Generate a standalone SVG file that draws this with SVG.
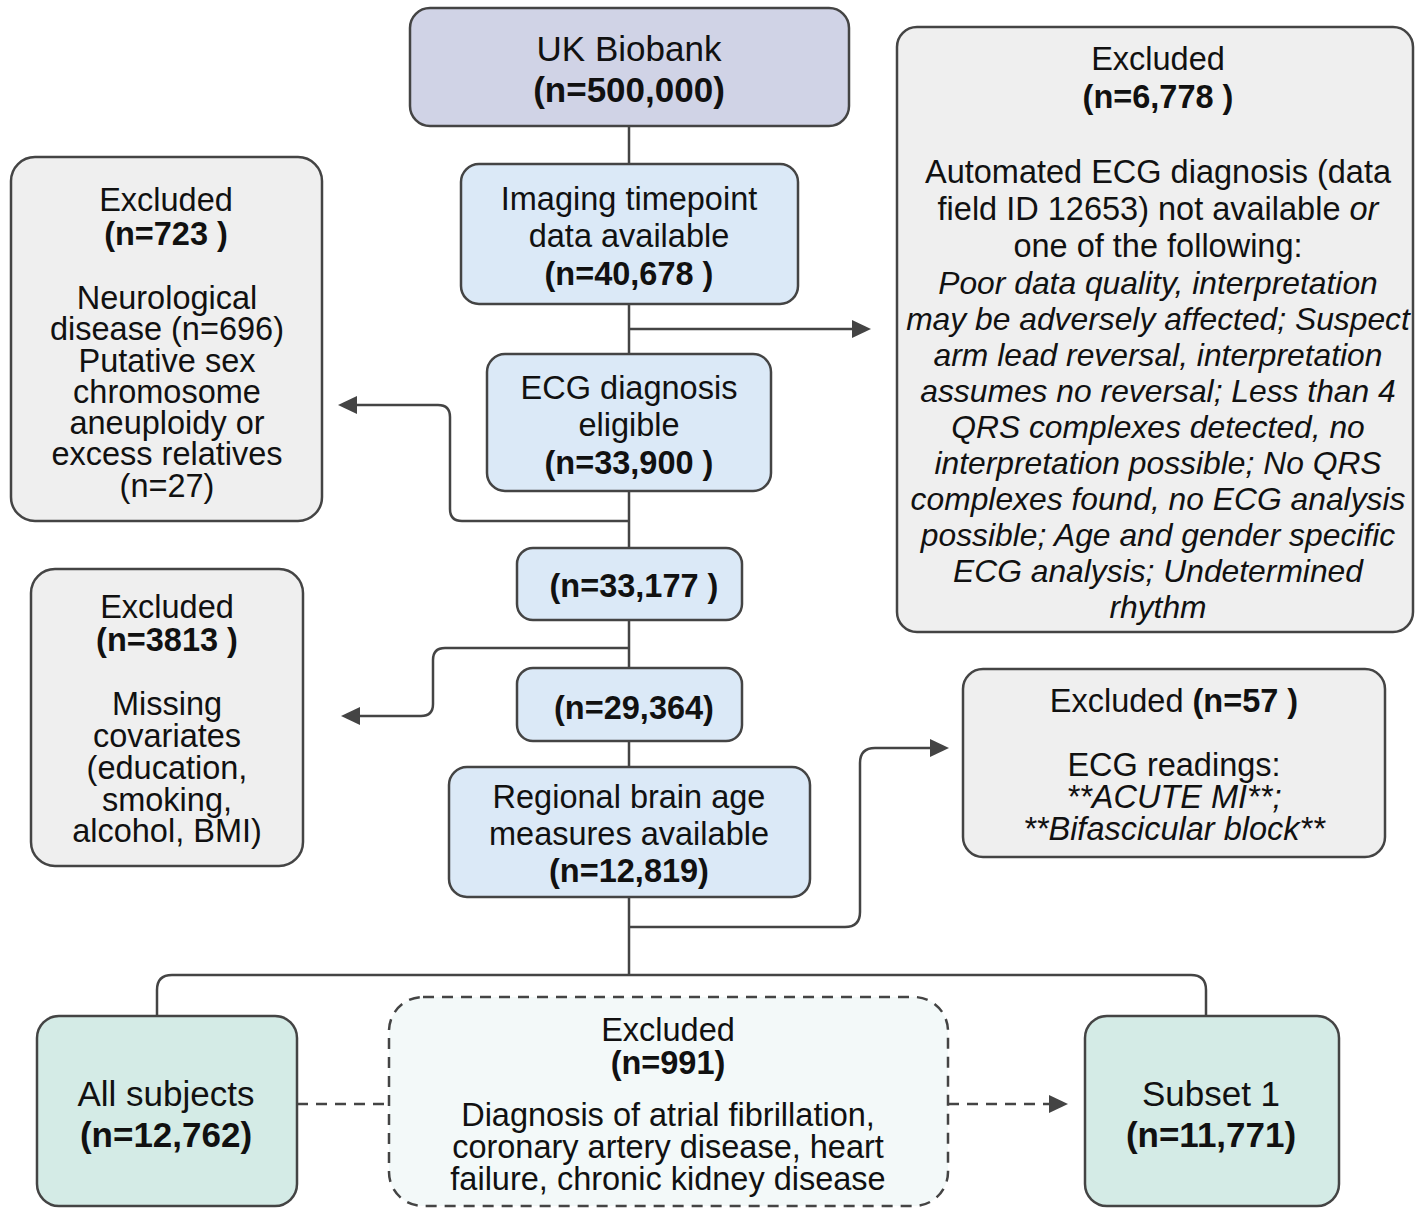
<svg xmlns="http://www.w3.org/2000/svg" width="1416" height="1208" viewBox="0 0 1416 1208">
<style>
text{font-family:"Liberation Sans",Arial,Helvetica,sans-serif;font-size:32.5px;fill:#111;text-anchor:middle}
.b{font-weight:bold}
.i{font-style:italic}
.it{font-style:italic;font-size:31.8px}
.big{font-size:35px}
.box{stroke:#444;stroke-width:2.5}
.top{fill:#d0d3e6}
.blue{fill:#dbe9f7}
.gray{fill:#efefef}
.mint{fill:#d4ebe6}
.dash{fill:#f3f9f9;stroke-dasharray:11 8}
.ln{fill:none;stroke:#444;stroke-width:2.5}
.dl{fill:none;stroke:#444;stroke-width:2.5;stroke-dasharray:11 8}
.ah{fill:#444}
</style>
<g id="connectors">
<path class="ln" d="M629,126 V975"/>
<path class="ln" d="M629,329 H852"/>
<path class="ah" d="M871,329 L852,320 L852,338 Z"/>
<path class="ln" d="M629,521 H462 Q450,521 450,509 V417 Q450,405 438,405 H356"/>
<path class="ah" d="M338,405 L357,396 L357,414 Z"/>
<path class="ln" d="M629,648 H445 Q433,648 433,660 V704 Q433,716 421,716 H359"/>
<path class="ah" d="M341,716 L360,707 L360,725 Z"/>
<path class="ln" d="M629,927 H845 Q860,927 860,912 V763 Q860,748 875,748 H930"/>
<path class="ah" d="M949,748 L930,739 L930,757 Z"/>
<path class="ln" d="M172,975 H1191 Q1206,975 1206,990 V1016 M172,975 Q157,975 157,990 V1016"/>
<path class="dl" d="M297,1104 H389"/>
<path class="dl" d="M948,1104 H1050"/>
<path class="ah" d="M1068,1104 L1049,1095 L1049,1113 Z"/>
</g>
<g id="n-ukb">
<rect class="box top" x="410" y="8" width="439" height="118" rx="20"/>
<text class="big" x="629" y="61">UK Biobank</text>
<text class="big b" x="629" y="102">(n=500,000)</text>
</g>
<g id="n-imaging">
<rect class="box blue" x="461" y="164" width="337" height="140" rx="18"/>
<text x="629" y="210">Imaging timepoint</text>
<text x="629" y="247">data available</text>
<text class="b" x="629" y="285">(n=40,678 )</text>
</g>
<g id="n-ecg">
<rect class="box blue" x="487" y="354" width="284" height="137" rx="18"/>
<text x="629" y="399">ECG diagnosis</text>
<text x="629" y="436">eligible</text>
<text class="b" x="629" y="474">(n=33,900 )</text>
</g>
<g id="n-33177">
<rect class="box blue" x="517" y="548" width="225" height="72" rx="16"/>
<text class="b" x="634" y="597">(n=33,177 )</text>
</g>
<g id="n-29364">
<rect class="box blue" x="517" y="668" width="225" height="73" rx="16"/>
<text class="b" x="634" y="719">(n=29,364)</text>
</g>
<g id="n-regional">
<rect class="box blue" x="449" y="767" width="361" height="130" rx="18"/>
<text x="629" y="808">Regional brain age</text>
<text x="629" y="845">measures available</text>
<text class="b" x="629" y="882">(n=12,819)</text>
</g>
<g id="n-excl6778">
<rect class="box gray" x="897" y="27" width="516" height="605" rx="20"/>
<text x="1158" y="70">Excluded</text>
<text class="b" x="1158" y="108">(n=6,778 )</text>
<text x="1158" y="183">Automated ECG diagnosis (data</text>
<text x="1158" y="220">field ID 12653) not available <tspan class="i">or</tspan></text>
<text x="1158" y="257">one of the following:</text>
<text class="it" x="1158" y="294">Poor data quality, interpretation</text>
<text class="it" x="1158" y="330">may be adversely affected; Suspect</text>
<text class="it" x="1158" y="366">arm lead reversal, interpretation</text>
<text class="it" x="1158" y="402">assumes no reversal; Less than 4</text>
<text class="it" x="1158" y="438">QRS complexes detected, no</text>
<text class="it" x="1158" y="474">interpretation possible; No QRS</text>
<text class="it" x="1158" y="510">complexes found, no ECG analysis</text>
<text class="it" x="1158" y="546">possible; Age and gender specific</text>
<text class="it" x="1158" y="582">ECG analysis; Undetermined</text>
<text class="it" x="1158" y="618">rhythm</text>
</g>
<g id="n-excl723">
<rect class="box gray" x="11" y="157" width="311" height="364" rx="24"/>
<text x="166" y="211">Excluded</text>
<text class="b" x="166" y="245">(n=723 )</text>
<text x="167" y="309">Neurological</text>
<text x="167" y="340">disease (n=696)</text>
<text x="167" y="372">Putative sex</text>
<text x="167" y="403">chromosome</text>
<text x="167" y="434">aneuploidy or</text>
<text x="167" y="465">excess relatives</text>
<text x="167" y="497">(n=27)</text>
</g>
<g id="n-excl3813">
<rect class="box gray" x="31" y="569" width="272" height="297" rx="24"/>
<text x="167" y="618">Excluded</text>
<text class="b" x="167" y="651">(n=3813 )</text>
<text x="167" y="715">Missing</text>
<text x="167" y="747">covariates</text>
<text x="167" y="779">(education,</text>
<text x="167" y="811">smoking,</text>
<text x="167" y="842">alcohol, BMI)</text>
</g>
<g id="n-excl57">
<rect class="box gray" x="963" y="669" width="422" height="188" rx="20"/>
<text x="1174" y="712">Excluded <tspan class="b">(n=57 )</tspan></text>
<text x="1174" y="776">ECG readings:</text>
<text class="i" x="1174" y="808">**ACUTE MI**;</text>
<text class="i" x="1174" y="840">**Bifascicular block**</text>
</g>
<g id="n-all">
<rect class="box mint" x="37" y="1016" width="260" height="190" rx="22"/>
<text class="big" x="166" y="1106">All subjects</text>
<text class="big b" x="166" y="1147">(n=12,762)</text>
</g>
<g id="n-excl991">
<rect class="box dash" x="389" y="997" width="559" height="209" rx="34"/>
<text x="668" y="1041">Excluded</text>
<text class="b" x="668" y="1074">(n=991)</text>
<text x="668" y="1126">Diagnosis of atrial fibrillation,</text>
<text x="668" y="1158">coronary artery disease, heart</text>
<text x="668" y="1190">failure, chronic kidney disease</text>
</g>
<g id="n-subset1">
<rect class="box mint" x="1085" y="1016" width="254" height="190" rx="22"/>
<text class="big" x="1211" y="1106">Subset 1</text>
<text class="big b" x="1211" y="1147">(n=11,771)</text>
</g>
</svg>
